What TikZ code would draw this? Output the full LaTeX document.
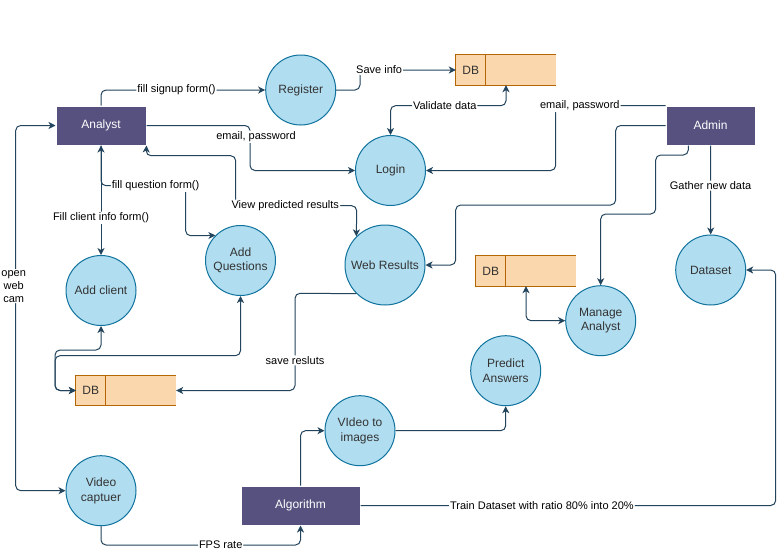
\documentclass[tikz,border=0pt]{standalone}
\usepackage{fontspec}
\setmainfont{Liberation Sans}
\usetikzlibrary{arrows.meta}
\definecolor{procfill}{HTML}{B1DDF0}
\definecolor{procline}{HTML}{10739E}
\definecolor{entfill}{HTML}{56517E}
\definecolor{storefill}{HTML}{FAD7AC}
\definecolor{storeline}{HTML}{B46504}
\definecolor{linecol}{HTML}{23445D}
\definecolor{txtdark}{HTML}{333333}
\tikzset{
  proc/.style={circle, draw=procline, line width=1pt, fill=procfill, minimum size=70pt, inner sep=0pt, align=center, text=txtdark, font=\fontsize{12}{14.5}\selectfont},
  ent/.style={rectangle, draw=white, line width=1pt, fill=entfill, minimum width=90pt, minimum height=39pt, inner sep=0pt, text=white, font=\fontsize{12}{14}\selectfont},
  store/.style={rectangle, fill=storefill, minimum width=100pt, minimum height=30pt, inner sep=0pt},
  storeedge/.style={draw=storeline, line width=1pt},
  storetxt/.style={text=txtdark, font=\fontsize{12}{14}\selectfont, inner sep=0pt},
  conn/.style={draw=linecol, line width=1pt, rounded corners=5pt, -{Stealth[length=7pt,width=7pt,inset=2pt]}},
  bconn/.style={draw=linecol, line width=1pt, rounded corners=5pt, {Stealth[length=7pt,width=7pt,inset=2pt]}-{Stealth[length=7pt,width=7pt,inset=2pt]}},
  lbl/.style={fill=white, inner sep=1pt, text=black, font=\fontsize{11}{12.5}\selectfont, align=center},
}
\begin{document}
\begin{tikzpicture}[x=1pt,y=-1pt]
\useasboundingbox[fill=white] (0,0) rectangle (784,554);
% entities
\node[ent] (analyst) at (101,125.5) {Analyst};
\node[ent, minimum width=89pt] (admin) at (710.5,125.5) {Admin};
\node[ent, minimum width=119pt] (algorithm) at (300.5,505.5) {Algorithm};
% processes
\node[proc] (register) at (300.7,90) {Register};
\node[proc] (login) at (390.5,170.5) {Login};
\node[proc, minimum size=80pt] (webres) at (385,265) {Web Results};
\node[proc] (addclient) at (101,290.5) {Add client};
\node[proc] (addq) at (240.5,260.5) {Add\\Questions};
\node[proc] (video) at (101,490.7) {Video\\captuer};
\node[proc] (vid2img) at (360,430.7) {VIdeo to\\images};
\node[proc] (predict) at (505.7,370.7) {Predict\\Answers};
\node[proc] (manage) at (600.7,320.7) {Manage\\Analyst};
\node[proc] (dataset) at (710.7,270) {Dataset};
% data stores
\foreach \n/\p in {db1/{(506,70)}, db2/{(526,271)}, db3/{(126,390.5)}}{
  \node[store] (\n) at \p {};
  \draw[storeedge] (\n.north east) -- (\n.north west) -- (\n.south west) -- (\n.south east);
  \draw[storeedge] ([xshift=30pt]\n.north west) -- ([xshift=30pt]\n.south west);
  \node[storetxt] (\n t) at ([xshift=15pt]\n.west) {DB};
}
% connectors
\draw[conn] (analyst.north) -- (101,90) -- node[lbl,pos=0.46]{fill signup form()} (register.west);
\draw[conn] (register.east) -- (360,90) -- (360,70) -- node[lbl,pos=0.2]{Save info} (db1.west);
\draw[bconn] (db1.south) -- (506,105.7) -- node[lbl,pos=0.53]{Validate data} (390.5,105.7) -- (login.north);
\draw[conn] (analyst.east) -- (250,125.5) -- node[lbl,pos=0.25,xshift=6pt]{email, password} (250,170.5) -- (login.west);
\draw[bconn] (analyst.south east) -- (146,155.7) -- (235.7,155.7) -- (235.7,205.7) -- node[lbl,pos=0.41]{View predicted results} (356.7,205.7) -- (webres.135);
\draw[bconn] (analyst.south) -- node[lbl,pos=0.66]{Fill client info form()} (addclient.north);
\draw[conn] (analyst.south) -- (101,185.7) -- node[lbl,pos=0.645]{fill question form()} (185.7,185.7) -- (185.7,235.8) -- (addq.135);
\draw[conn] (admin.north west) -- node[lbl,pos=0.78]{email, password} (555.7,106) -- (555.7,170.5) -- (login.east);
\draw[conn] (admin.west) -- (615.7,125.5) -- (615.7,205) -- (455.7,205) -- (455.7,265) -- (webres.east);
\draw[conn] ([xshift=-22.2pt]admin.south) -- (688.3,155) -- (655.7,155) -- (655.7,214) -- (600.7,214) -- (manage.north);
\draw[conn] (admin.south) -- node[lbl,pos=0.45]{Gather new data} (dataset.north);
\draw[bconn] (db2.south) -- (526,320.7) -- (manage.west);
\draw[conn] (webres.225) -- (295,293.3) -- node[lbl,pos=0.69]{save resluts} (295,390.5) -- (db3.east);
\draw[bconn] (addclient.south) -- (101,350) -- (55,350) -- (55,390.5) -- (db3.west);
\draw[bconn] (addq.south) -- (240.5,355.7) -- (55,355.7) -- (55,390.5) -- (db3.west);
\draw[bconn] (analyst.west) -- (15.7,125.5) -- node[lbl,pos=0.44,xshift=-2pt,font=\fontsize{11}{13}\selectfont]{open\\web\\cam} (15.7,490.7) -- (video.west);
\draw[conn] (video.south) -- (101,545) -- node[lbl,pos=0.6]{FPS rate} (300.5,545) -- (algorithm.south);
\draw[conn] (algorithm.north) -- (300.5,430.7) -- (vid2img.west);
\draw[conn] (vid2img.east) -- (505.7,430.7) -- (predict.south);
\draw[conn] (algorithm.east) -- node[lbl,pos=0.437]{Train Dataset with ratio 80\% into 20\%} (775.7,505.5) -- (775.7,270) -- (dataset.east);
\end{tikzpicture}
\end{document}
